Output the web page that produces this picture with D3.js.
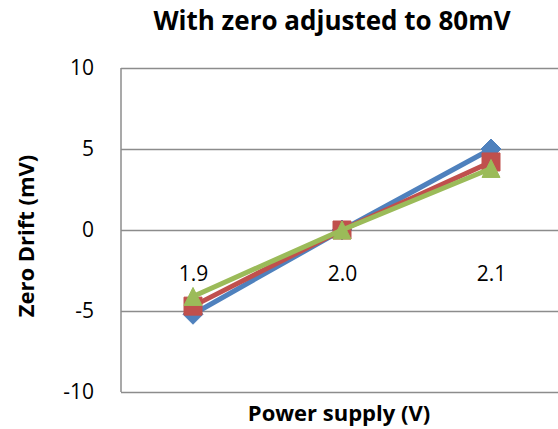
<!DOCTYPE html>
<html>
<head>
<meta charset="utf-8">
<script src="https://cdn.jsdelivr.net/npm/d3@7"></script>
<style>
  body { margin: 0; background: #fff; }
  text { font-family: "Open Sans", "DejaVu Sans", sans-serif; }
</style>
</head>
<body>
<div id="chart"></div>
<script>
// data
const categories = ['1.9', '2.0', '2.1'];
const blueValues = [-5.2, 0, 5.0];
const redValues = [-4.7, 0, 4.2];
const greenValues = [-4.1, 0, 3.8];
const yTicks = [-10, -5, 0, 5, 10];

const W = 558, H = 429;
const plot = { left: 121, top: 68, bottom: 392, bandLeft: 118.5, bandRight: 565.5 };

const svg = d3.select('#chart')
  .append('svg')
  .attr('width', W)
  .attr('height', H);

const x = d3.scalePoint()
  .domain(categories)
  .range([plot.bandLeft, plot.bandRight])
  .padding(0.5);

const y = d3.scaleLinear()
  .domain([-10, 10])
  .range([plot.bottom, plot.top]);

// gridlines + value labels (plain hyphen like Excel)
const yAxis = svg.append('g')
  .attr('transform', `translate(${plot.left},0)`)
  .call(d3.axisLeft(y).tickValues(yTicks).tickSize(-(W - plot.left)).tickPadding(27).tickFormat(d => String(d)));
yAxis.select('.domain').remove();
yAxis.selectAll('.tick line').attr('stroke', '#8c8c8c').attr('stroke-width', 1.5);
yAxis.selectAll('.tick text')
  .attr('fill', '#000')
  .style('font-size', '21px');

// left axis line
svg.append('line')
  .attr('x1', plot.left).attr('x2', plot.left)
  .attr('y1', plot.top).attr('y2', plot.bottom)
  .attr('stroke', '#8c8c8c').attr('stroke-width', 1.5);

// category labels sit under the zero line
const xAxis = svg.append('g')
  .attr('transform', `translate(0,${y(0)})`)
  .call(d3.axisBottom(x).tickSize(0));
xAxis.select('.domain').remove();
xAxis.selectAll('.tick text')
  .attr('fill', '#000')
  .attr('y', 51)
  .attr('dy', 0)
  .style('font-size', '21px');

// excel style markers: diamond / square / triangle with equal width and height
const diamond = { draw(ctx, r) { ctx.moveTo(0, -r); ctx.lineTo(r, 0); ctx.lineTo(0, r); ctx.lineTo(-r, 0); ctx.closePath(); } };
const square = { draw(ctx, r) { ctx.rect(-r, -r, 2 * r, 2 * r); } };
const triangle = { draw(ctx, r) { ctx.moveTo(0, -r); ctx.lineTo(r, r); ctx.lineTo(-r, r); ctx.closePath(); } };

const series = [
  { name: 'blue', values: blueValues, color: '#4F81BD', marker: diamond, r: 10 },
  { name: 'red', values: redValues, color: '#C0504D', marker: square, r: 9 },
  { name: 'green', values: greenValues, color: '#9BBB59', marker: triangle, r: 9 }
];

const line = d3.line()
  .x((d, i) => x(categories[i]))
  .y(d => y(d));

series.forEach(s => {
  const g = svg.append('g').attr('class', 'series-' + s.name);
  g.append('path')
    .attr('d', line(s.values))
    .attr('fill', 'none')
    .attr('stroke', s.color)
    .attr('stroke-width', 5);
  g.selectAll('path.marker')
    .data(s.values)
    .join('path')
    .attr('class', 'marker')
    .attr('transform', (d, i) => `translate(${x(categories[i])},${y(d)})`)
    .attr('d', d3.symbol().type(s.marker).size(s.r))
    .attr('fill', s.color)
    .attr('stroke', s.color)
    .attr('stroke-width', 1);
});

// titles
svg.append('text')
  .attr('x', 332).attr('y', 30)
  .attr('text-anchor', 'middle')
  .style('font-size', '26px')
  .style('font-weight', 'bold')
  .text('With zero adjusted to 80mV');

svg.append('text')
  .attr('x', 339).attr('y', 421)
  .attr('text-anchor', 'middle')
  .style('font-size', '22px')
  .style('font-weight', 'bold')
  .text('Power supply (V)');

svg.append('text')
  .attr('transform', 'translate(34,236) rotate(-90)')
  .attr('text-anchor', 'middle')
  .style('font-size', '22px')
  .style('font-weight', 'bold')
  .text('Zero Drift (mV)');
</script>
</body>
</html>
